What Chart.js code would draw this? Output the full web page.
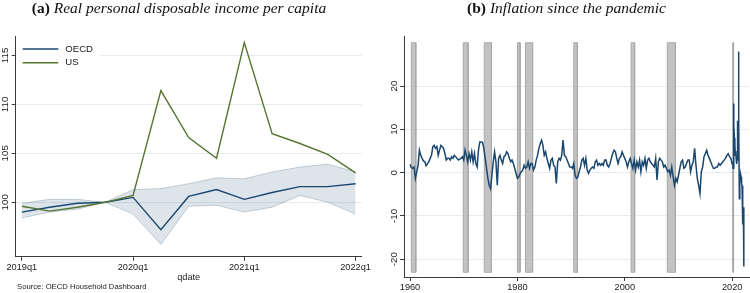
<!DOCTYPE html>
<html lang="en">
<head>
<meta charset="UTF-8">
<title>Income and inflation</title>
<script src="https://cdn.jsdelivr.net/npm/chart.js"></script>
<style>
    html, body { margin: 0; padding: 0; background: #fff; }
    #wrap { position: relative; width: 750px; height: 293px; overflow: hidden; background: #fff; }
    .panel { position: absolute; top: 0; width: 375px; height: 293px; }
    .ttl { position: absolute; top: -1px; font-family: "Liberation Serif", serif; font-size: 15.5px; line-height: 18px; color: #111; text-align: center; white-space: nowrap; }
    .ttl i { font-style: italic; }
    .src { position: absolute; left: 17px; top: 281.6px; font-family: "Liberation Sans", Arial, sans-serif; font-size: 7.7px; line-height: 9px; color: #222; }
</style>
</head>
<body>
<div id="wrap">
    <div class="panel" style="left:0"><canvas id="income" width="375" height="293"></canvas></div>
    <div class="panel" style="left:375px"><canvas id="inflation" width="375" height="293"></canvas></div>
    <div class="ttl" style="left:0;width:358px"><b>(a)</b> <i>Real personal disposable income per capita</i></div>
    <div class="ttl" style="left:383px;width:367px"><b>(b)</b> <i>Inflation since the pandemic</i></div>
    <div class="src">Source: OECD Household Dashboard</div>
</div>
<script>
    // ---- panel (a): quarterly index, 2019q4 = 100
    const quarters = ['2019q1', '2019q2', '2019q3', '2019q4', '2020q1', '2020q2', '2020q3', '2020q4',
        '2021q1', '2021q2', '2021q3', '2021q4', '2022q1'];
    const oecd = [99.0, 99.5, 99.9, 100.0, 100.5, 97.2, 100.6, 101.3, 100.3, 101.0, 101.6, 101.6, 101.9];
    const us = [99.6, 99.1, 99.5, 100.0, 100.7, 111.4, 106.6, 104.5, 116.3, 107.0, 106.0, 104.9, 103.0];
    const bandHigh = [99.9, 100.3, 100.3, 100.0, 101.3, 101.4, 101.9, 102.5, 102.4, 103.1, 103.6, 103.9, 103.1];
    const bandLow = [98.4, 99.0, 99.3, 100.0, 98.8, 95.7, 99.6, 99.7, 99.0, 99.5, 100.7, 100.0, 98.8];
    const quarterTicks = ['2019q1', '2020q1', '2021q1', '2022q1'];
    const incomeTicks = [100, 105, 110, 115];
    const legendNames = ['OECD', 'US'];

    // ---- panel (b): quarterly readings 1960-2019, then monthly from Jan 2020
    const inflQuarterly = [
        1.9, 1.2, 1.0, 1.3, -1.3, 0.2, 1.7, 5.2, 4.0, 3.3, 2.7, 2.5, 1.6, 2.1, 2.5, 3.3,
        4.0, 6.0, 6.3, 5.6, 6.0, 4.0, 5.2, 6.3, 6.0, 5.6, 4.4, 2.9, 3.3, 3.3, 2.9, 3.7,
        3.3, 4.0, 3.7, 3.3, 2.9, 3.1, 3.3, 3.7, 2.9, 5.2, 4.0, 2.5, 4.4, 2.9, 4.8, 2.5,
        4.4, 2.1, 1.3, 5.2, 7.1, 7.1, 7.0, 5.6, 3.3, 1.0, -1.3, -2.9, -3.7, -0.6, 2.5, 4.8,
        2.5, -2.9, 3.3, 4.0, 2.9, 2.1, 3.7, 4.0, 4.8, 4.4, 3.3, 2.5, 2.9, 2.1, 1.0, -0.2,
        -1.3, -1.0, -0.2, 0.2, 0.6, 1.7, 1.0, 1.3, 2.5, 1.0, 2.1, 2.1, 0.6, 1.3, 2.9, 4.0,
        5.6, 6.7, 7.5, 6.3, 4.0, 4.8, 3.3, 2.1, 1.0, 2.9, 3.3, 1.7, 1.3, -2.5, 2.5, 3.3,
        2.9, 4.0, 7.5, 4.0, 3.7, 2.9, 2.1, 1.3,
        1.3, 1.0, 2.1, -0.6, -1.3, -1.0, 0.2, 1.3, 2.9, 3.3, 1.7, 3.3, 0.6, -0.2, 0.6, 1.0,
        1.3, 1.0, 2.5, 2.9, 1.7, 2.1, 1.7, 2.1, 1.7, 2.9, 2.9, 1.7, 1.3, 2.1, 3.3, 4.4,
        5.2, 4.8, 3.3, 2.1, 3.3, 3.7, 4.8, 4.0, 3.3, 2.5, 1.3, 2.5, 3.3, 2.1, 1.0, 2.9,
        0.6, 2.5, 1.3, 2.9, 0.2, 2.5, 1.7, 3.3, 1.0, 2.9, 3.3, 2.5, 2.1, 1.7, 1.3, 3.3,
        -1.7, 2.5, 3.3, 2.9, 2.5, 1.3, 1.7, 1.0, 0.2, 0.6, -0.6, 1.3, -1.0, -2.9, -1.3, -2.1,
        -0.6, 1.0, 2.5, 2.9, 1.0, 1.3, 2.1, 2.9, 2.9, 0.2, 1.7, 2.5, 5.6, 1.7, -1.3, -2.9,
        -4.8, 0.2, 1.3, 3.7, 4.4, 5.2, 4.0, 3.3, 2.5, 1.7, 1.0, 1.0, 1.3, 1.3, 2.1, 1.7,
        2.1, 2.5, 2.9, 3.3, 4.0, 4.4, 3.7, 3.3
    ];
    const inflMonthly = [
        2.0, 2.5, 1.0, 16.0, 11.0, 8.0, 6.5, 4.0, 5.0, 3.0, 2.0, 3.0,
        12.0, 5.0, 28.0, 12.0, -6.0, -1.0, -1.5, -0.5, -1.0, -2.5, -3.0, -5.0,
        -12.0, -8.0, -21.7
    ];
    const recessionStart = [1960.25, 1969.92, 1973.83, 1980.0, 1981.5, 1990.5, 2001.17, 2007.92, 2020.08];
    const recessionEnd = [1961.08, 1970.83, 1975.17, 1980.5, 1982.83, 1991.17, 2001.83, 2009.42, 2020.25];
    const recessionLow = -23;
    const recessionHigh = 30;
    const yearTicks = [1960, 1980, 2000, 2020];
    const inflTicks = [-20, -10, 0, 10, 20];

    const NAVY = '#1a476f';
    const GREEN = '#55752f';
    const AXIS = '#3a3a3a';
    const GRID = '#e4ecef';
    const TEXT = '#1a1a1a';
    const SANS = '"Liberation Sans", Arial, sans-serif';

    const fixedTicks = (list) => (scale) => {
        scale.ticks = list.map(v => ({value: v}));
    };

    // tick labels on the y axis read bottom-to-top, as in Stata
    const rotatedYLabels = {
        id: 'rotatedYLabels',
        afterDraw(chart, args, opts) {
            const scale = chart.scales.y;
            const ctx = chart.ctx;
            ctx.save();
            ctx.font = opts.size + 'px ' + SANS;
            ctx.fillStyle = TEXT;
            ctx.textAlign = 'center';
            ctx.textBaseline = 'alphabetic';
            scale.ticks.forEach(t => {
                ctx.save();
                ctx.translate(opts.x, scale.getPixelForValue(t.value));
                ctx.rotate(-Math.PI / 2);
                ctx.fillText(String(t.value), 0, 0);
                ctx.restore();
            });
            ctx.restore();
        }
    };

    const insideLegend = {
        id: 'insideLegend',
        beforeDatasetsDraw(chart) {
            const {ctx, chartArea: a} = chart;
            const colors = [NAVY, GREEN];
            ctx.save();
            ctx.fillStyle = '#fff';
            ctx.fillRect(a.left + 1, a.top + 1, 84, 34);
            legendNames.forEach((name, i) => {
                const yy = a.top + 12.3 + i * 13.7;
                ctx.strokeStyle = colors[i];
                ctx.lineWidth = 1.4;
                ctx.beginPath();
                ctx.moveTo(a.left + 7, yy);
                ctx.lineTo(a.left + 42.6, yy);
                ctx.stroke();
                ctx.fillStyle = TEXT;
                ctx.font = '9.6px ' + SANS;
                ctx.textBaseline = 'middle';
                ctx.fillText(name, a.left + 49.6, yy);
            });
            ctx.restore();
        }
    };

    const byIndex = arr => arr.map((v, i) => ({x: i, y: v}));

    new Chart(document.getElementById('income'), {
        type: 'line',
        data: {
            datasets: [
                {label: 'OECD', data: byIndex(oecd), borderColor: NAVY, borderWidth: 1.4, pointRadius: 0, order: 1},
                {label: 'US', data: byIndex(us), borderColor: GREEN, borderWidth: 1.4, pointRadius: 0, order: 0},
                {
                    label: 'upper', data: byIndex(bandHigh), borderColor: 'rgba(26,71,111,0.22)', borderWidth: 1,
                    backgroundColor: 'rgba(26,71,111,0.15)', fill: '+1', pointRadius: 0, order: 2
                },
                {
                    label: 'lower', data: byIndex(bandLow), borderColor: 'rgba(26,71,111,0.22)', borderWidth: 1,
                    fill: false, pointRadius: 0, order: 3
                }
            ]
        },
        options: {
            responsive: false,
            animation: false,
            devicePixelRatio: 1,
            layout: {padding: {left: 0, top: 36.7, right: 13.3, bottom: 0}},
            plugins: {
                legend: {display: false},
                tooltip: {enabled: false},
                rotatedYLabels: {x: 7.5, size: 9.8}
            },
            scales: {
                x: {
                    type: 'linear', min: -0.22, max: 12.22,
                    afterBuildTicks: fixedTicks(quarterTicks.map(q => quarters.indexOf(q))),
                    afterFit: s => { s.height = 36.3; s.paddingLeft = 0; s.paddingRight = 0; },
                    ticks: {
                        callback: v => quarters[v], font: {family: SANS, size: 9.2}, color: TEXT,
                        padding: 1, maxRotation: 0, autoSkip: false
                    },
                    grid: {drawOnChartArea: false, tickLength: 4, tickColor: AXIS},
                    border: {color: AXIS, width: 1},
                    title: {
                        display: true, text: 'qdate', color: TEXT, font: {family: SANS, size: 9.2},
                        padding: {top: 0, bottom: 10.2}
                    }
                },
                y: {
                    min: 94.45, max: 116.9,
                    afterBuildTicks: fixedTicks(incomeTicks),
                    afterFit: s => { s.width = 15.7; s.paddingTop = 0; s.paddingBottom = 0; },
                    ticks: {display: false},
                    grid: {color: GRID, tickLength: 4, tickColor: AXIS, lineWidth: 1},
                    border: {color: AXIS, width: 1}
                }
            }
        },
        plugins: [rotatedYLabels, insideLegend]
    });

    const inflPoints = inflQuarterly.map((v, i) => ({x: 1960 + i / 4, y: v}))
        .concat(inflMonthly.map((v, i) => ({x: 2020 + i / 12, y: v})));

    const recessionSets = recessionStart.map((s, i) => ({
        label: 'recession',
        data: [
            {x: s, y: recessionLow}, {x: s, y: recessionHigh},
            {x: recessionEnd[i], y: recessionHigh}, {x: recessionEnd[i], y: recessionLow},
            {x: s, y: recessionLow}
        ],
        borderColor: '#a9a9a9', borderWidth: 1, backgroundColor: '#c3c3c3',
        fill: 'shape', pointRadius: 0, tension: 0, order: 5
    }));

    new Chart(document.getElementById('inflation'), {
        type: 'line',
        data: {
            datasets: [
                {label: 'inflation', data: inflPoints, borderColor: NAVY, borderWidth: 1.5, pointRadius: 0, order: 0}
            ].concat(recessionSets)
        },
        options: {
            responsive: false,
            animation: false,
            devicePixelRatio: 1,
            layout: {padding: {left: 0, top: 36.7, right: 1, bottom: 0}},
            plugins: {
                legend: {display: false},
                tooltip: {enabled: false},
                rotatedYLabels: {x: 21.6, size: 9.8}
            },
            scales: {
                x: {
                    type: 'linear', min: 1958.88, max: 2023.13,
                    afterBuildTicks: fixedTicks(yearTicks),
                    afterFit: s => { s.height = 16; s.paddingLeft = 0; s.paddingRight = 0; },
                    ticks: {
                        callback: v => String(v), font: {family: SANS, size: 9.2}, color: TEXT,
                        padding: 1, maxRotation: 0, autoSkip: false
                    },
                    grid: {drawOnChartArea: false, tickLength: 4, tickColor: AXIS},
                    border: {color: AXIS, width: 1}
                },
                y: {
                    min: -24.1, max: 31.4,
                    afterBuildTicks: fixedTicks(inflTicks),
                    afterFit: s => { s.width = 29; s.paddingTop = 0; s.paddingBottom = 0; },
                    ticks: {display: false},
                    grid: {color: GRID, tickLength: 4, tickColor: AXIS, lineWidth: 1},
                    border: {color: AXIS, width: 1}
                }
            }
        },
        plugins: [rotatedYLabels]
    });
</script>
</body>
</html>
